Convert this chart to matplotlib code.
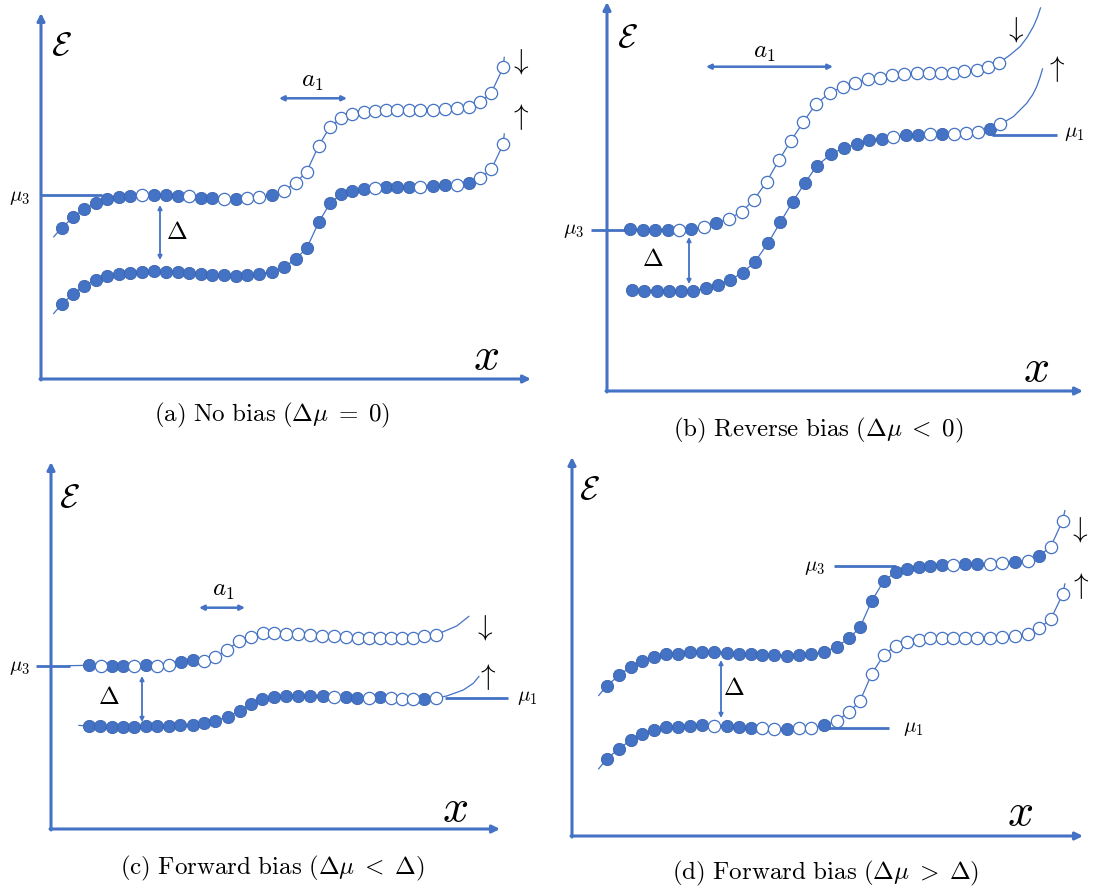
import matplotlib
matplotlib.use("Agg")
import matplotlib.pyplot as plt
import numpy as np

plt.rcParams['mathtext.fontset'] = 'cm'

BLUE = '#4472C4'
EDGE = '#3A63AE'

# ---------------- data (pixel positions) -------------
# panel (a) No bias
A_X = [61.7, 73.3, 84.3, 95.7, 107.3, 119, 130.3, 142, 154, 165.7, 177.7, 189.3, 200.7,
       212.3, 224, 235.7, 247.3, 259, 271.7, 284.3, 295.7, 306.7, 318.7, 330, 341, 352.3,
       363.7, 374.7, 385.7, 396.7, 408.7, 420.3, 432.7, 445, 456.7, 468.7, 480.3, 491.3, 503.3]
A_UP_Y = [227.7, 217.3, 209, 203.3, 199.3, 197, 196, 195.3, 194.7, 195, 195.7, 196.3, 197.7,
          198.3, 198.7, 199, 198.3, 197.3, 195, 190.7, 182.7, 171.7, 145.7, 126.7, 118.3, 114,
          112, 110.7, 110.3, 110.3, 110.3, 110.3, 109.7, 109, 108.3, 106.7, 102, 92.7, 67.3]
A_UP_FILL = "1111" + "111011101101001" + "0" * 20
A_UP_HEAD = [(53.3, 237.3)]
A_UP_TAIL = [(504.3, 56.7)]
A_LO_Y = [304, 294, 285.7, 280, 276, 273.7, 273, 272, 271.3, 271.7, 272.3, 273.3, 274.3,
          275, 275.3, 275.7, 275, 274, 272, 267.3, 259, 248.3, 222.3, 203.3, 194.3, 190.7,
          189, 187.7, 187, 187, 187, 187, 186, 185.3, 184.7, 183.3, 178, 169.3, 144]
A_LO_FILL = "1" * 19 + "11111111" + "0111011010" + "00"
A_LO_HEAD = [(53.3, 314)]
A_LO_TAIL = [(504.3, 133.3)]

# panel (b) Reverse bias
B_UP_X = [630, 642.7, 655, 667.7, 679.3, 691, 704.3, 716, 728.7, 741.7, 753.7, 766.7, 779,
          791, 803.3, 815.7, 830, 842.7, 855.3, 868, 880, 892, 904.3, 916.7, 928.7, 940.7,
          952.7, 964.3, 976.7, 988.3, 999.3]
B_UP_Y = [229.3, 229.7, 229.7, 229.7, 230, 229.3, 226.7, 223.3, 218.7, 211.7, 200, 181.7,
          160, 140.7, 122, 104.3, 92.7, 86.7, 82.7, 79, 77.7, 75.3, 74.3, 73.3, 72.7, 72.7,
          72.7, 71.3, 70, 66.7, 62.7]
B_UP_FILL = "11110101" + "0" * 23
B_UP_HEAD = []
B_UP_TAIL = [(1010, 55), (1020, 46.7), (1027, 37.5), (1033.3, 26.7), (1037.5, 17), (1040.7, 7.3)]
B_LO_X = [631.7, 644.3, 657, 669, 680.7, 693.3, 705.7, 717.7, 730, 742.7, 755, 768.3, 780.3,
          792.7, 804.7, 816.7, 831.3, 844, 856.7, 869, 881.7, 893.3, 905.7, 918, 930, 942.3,
          954, 966, 978, 989.7, 1000.3]
B_LO_Y = [290, 290.7, 290.7, 290.7, 291, 290.7, 288.3, 285, 280, 272.7, 261.7, 242.7, 222.3,
          201.7, 183.3, 166, 154, 147.7, 144, 140.3, 138.7, 136.7, 135.3, 134.7, 134, 133.7,
          133.7, 132.7, 131.7, 129.3, 124.3]
B_LO_FILL = "1" * 16 + "111110110100010"
B_LO_HEAD = []
B_LO_TAIL = [(1013.3, 116.7), (1026.7, 103.3), (1032.5, 95), (1036.7, 86.7), (1040, 77.5), (1042.7, 68.3)]

# panel (c) Forward bias, dmu < Delta
C_UP_X = [89, 100.7, 111.7, 123.3, 134.3, 146, 157.3, 168.7, 180.7, 192.7, 204, 215.3, 226.7,
          239.3, 250.7, 262.7, 274.3, 286.3, 298.3, 310.3, 322.3, 334.3, 346, 357.7, 369,
          380.3, 391, 402.3, 413, 424.3, 435.7]
C_UP_Y = [665.3, 666, 666, 666, 666.3, 665, 665.7, 664.7, 662, 660, 660.7, 657.3, 650, 641,
          636.7, 632.7, 633.3, 634, 634, 635, 635.7, 636.3, 637, 637.7, 638, 638.3, 638.3,
          638.3, 638, 636, 634.7]
C_UP_FILL = "101101001100000" + "0" * 16
C_UP_HEAD = [(68, 665.7)]
C_UP_TAIL = [(443.3, 631.7), (456.7, 626), (469.3, 616)]
C_LO_X = [89, 100, 111.7, 123, 134, 145.7, 157.3, 168.7, 180.3, 192.7, 204, 215.3, 227.7, 240,
          251, 262.3, 274, 286, 298.3, 310.3, 322.7, 334.3, 345.7, 357.3, 369, 380, 391,
          402.3, 413.3, 424.3, 435.7]
C_LO_Y = [726.3, 726.3, 726.7, 726.7, 726.7, 725.7, 725.7, 725.7, 725.3, 724.7, 723.3, 720.7,
          716.7, 711, 703.7, 699.3, 696.7, 695.7, 695.7, 695.7, 696, 696.7, 697, 698, 698,
          697.3, 698.3, 698.7, 698.7, 699.3, 698]
C_LO_FILL = "1" * 15 + "1111110110100010"
C_LO_HEAD = [(78.3, 725.3)]
C_LO_TAIL = [(446.7, 696), (463.3, 690), (473.3, 683.3), (479.3, 676)]

# panel (d) Forward bias, dmu > Delta
D_X = [606.7, 619.3, 630.7, 642.3, 654, 666.3, 677.7, 690, 702, 714.3, 726.7, 739, 750.7,
       762.3, 774.3, 787, 799, 811.3, 824.3, 836.7, 849, 860, 871.7, 884, 896, 907.3, 918.7,
       930, 941.7, 953.3, 965, 977.3, 990, 1002.3, 1015.3, 1027.7, 1039, 1050.7, 1062.7]
D_UP_Y = [685.7, 675.3, 666.7, 660.7, 656.7, 654.3, 653.7, 652.3, 651.7, 652, 652.7, 653.7,
          654.3, 654.7, 655.3, 656, 655.3, 654.3, 652, 646.7, 638.3, 627.3, 601, 580.7, 572,
          568.7, 567, 565.7, 564.7, 564.7, 564.3, 564.3, 563.7, 563, 562, 560.7, 556, 546.7, 520.7]
D_UP_FILL = "1" * 19 + "11111111110110010100"
D_UP_HEAD = [(598.3, 696)]
D_UP_TAIL = [(1065, 510)]
D_LO_Y = [758.7, 748.7, 740, 734, 730, 727.3, 726.7, 725.7, 725, 725.7, 726.3, 727, 727.7,
          728.3, 728.7, 729.3, 728.3, 727.7, 725.3, 720.7, 712.3, 701, 674, 654.7, 645.7,
          641.7, 640, 638.3, 638, 638, 638, 638, 637.7, 637, 636.3, 634, 628.3, 619.3, 594.3]
D_LO_FILL = "1111111110111001001" + "0" * 20
D_LO_HEAD = [(598.3, 769.3)]
D_LO_TAIL = [(1065, 583.3)]

CAPTIONS = [r"$\mathrm{(a)\ No\ bias\ (}\Delta\mu\;=\;0\mathrm{)}$",
            r"$\mathrm{(b)\ Reverse\ bias\ (}\Delta\mu\;<\;0\mathrm{)}$",
            r"$\mathrm{(c)\ Forward\ bias\ (}\Delta\mu\;<\;\Delta\mathrm{)}$",
            r"$\mathrm{(d)\ Forward\ bias\ (}\Delta\mu\;>\;\Delta\mathrm{)}$"]

# ---------------- drawing -------------------------------------------------------
fig = plt.figure(figsize=(10.94, 8.94), dpi=100)
ax = fig.add_axes([0, 0, 1, 1])
ax.set_xlim(0, 1094)
ax.set_ylim(894, 0)
ax.axis('off')

DOT_S = 78


def chain(xs, ys, fill, head, tail):
    px = [p[0] for p in head] + list(xs) + [p[0] for p in tail]
    py = [p[1] for p in head] + list(ys) + [p[1] for p in tail]
    ax.plot(px, py, color=BLUE, lw=0.9, zorder=2, solid_capstyle='butt')
    xs = np.asarray(xs, float)
    ys = np.asarray(ys, float)
    f = np.array([c == "1" for c in fill])
    ax.scatter(xs[f], ys[f], s=DOT_S, facecolor=BLUE, edgecolor=EDGE, linewidths=0.6, zorder=3)
    ax.scatter(xs[~f], ys[~f], s=DOT_S, facecolor='white', edgecolor=BLUE, linewidths=0.9, zorder=3)


chain(A_X, A_UP_Y, A_UP_FILL, A_UP_HEAD, A_UP_TAIL)
chain(A_X, A_LO_Y, A_LO_FILL, A_LO_HEAD, A_LO_TAIL)
chain(B_UP_X, B_UP_Y, B_UP_FILL, B_UP_HEAD, B_UP_TAIL)
chain(B_LO_X, B_LO_Y, B_LO_FILL, B_LO_HEAD, B_LO_TAIL)
chain(C_UP_X, C_UP_Y, C_UP_FILL, C_UP_HEAD, C_UP_TAIL)
chain(C_LO_X, C_LO_Y, C_LO_FILL, C_LO_HEAD, C_LO_TAIL)
chain(D_X, D_UP_Y, D_UP_FILL, D_UP_HEAD, D_UP_TAIL)
chain(D_X, D_LO_Y, D_LO_FILL, D_LO_HEAD, D_LO_TAIL)


def arrow(p0, p1, style='-|>', lw=2.0, ms=12):
    ax.annotate('', xy=p1, xytext=p0,
                arrowprops=dict(arrowstyle=style, color=BLUE, lw=lw, mutation_scale=ms,
                                shrinkA=0, shrinkB=0), zorder=1)


def hline(x0, x1, y, lw=2.0):
    ax.plot([x0, x1], [y, y], color=BLUE, lw=lw, solid_capstyle='butt', zorder=1)


def txt(x, y, s, size, **kw):
    ax.text(x, y, s, fontsize=size, ha='center', va='center', color='black', **kw)


# coordinate axes of each panel: (origin, top, right)
for (ox, oy, ty, rx) in [(41, 379, 13, 531), (607, 391, 2, 1083),
                         (51, 829, 462, 500), (572, 836, 457, 1083)]:
    arrow((ox, oy + 1), (ox, ty), lw=2.2, ms=11)
    arrow((ox - 1, oy), (rx, oy), lw=2.2, ms=11)

# chemical potential lines
hline(41, 102, 194.5)
hline(591, 628, 230)
hline(992, 1057, 135)
hline(36, 70, 666)
hline(445, 508, 697.7)
hline(834, 896, 566)
hline(825, 889, 727.7)

# Delta arrows
arrow((160, 205), (160, 260), style='<|-|>', lw=1.3, ms=6)
arrow((689, 237), (689, 284), style='<|-|>', lw=1.3, ms=6)
arrow((142, 676), (142, 722), style='<|-|>', lw=1.3, ms=6)
arrow((721, 660), (721, 718), style='<|-|>', lw=1.3, ms=6)

# a1 arrows
arrow((279, 98.3), (347, 98.3), style='<|-|>', lw=1.8, ms=7)
arrow((706, 66.7), (833, 66.7), style='<|-|>', lw=1.8, ms=7)
arrow((199, 607.7), (245, 607.7), style='<|-|>', lw=1.8, ms=7)

# labels
for (x, y) in [(61, 46), (627, 38), (69, 497), (589, 489)]:
    txt(x, y, r"$\mathcal{E}$", 24)
for (x, y) in [(486, 357), (1036, 368), (455, 809), (1020, 812)]:
    txt(x, y, r"$x$", 33)
for (x, y) in [(519, 62), (1014, 29), (483, 627), (1078, 529)]:
    txt(x, y, r"$\downarrow$", 21)
for (x, y) in [(519, 117), (1055, 69), (486, 677), (1079, 586)]:
    txt(x, y, r"$\uparrow$", 21)
for (x, y) in [(20, 197), (574, 230), (20, 667), (815, 567)]:
    txt(x, y, r"$\mu_3$", 15)
for (x, y) in [(1074, 133), (527, 697), (913, 728)]:
    txt(x, y, r"$\mu_1$", 15)
for (x, y) in [(312.7, 81), (764, 52), (223, 590)]:
    txt(x, y, r"$a_1$", 18)
for (x, y) in [(177, 232), (653, 259), (109, 697), (734, 688)]:
    txt(x, y, r"$\Delta$", 18)
for (x, y), s in zip([(272, 415), (818, 430), (272, 868), (826, 873)], CAPTIONS):
    txt(x, y, s, 18)

fig.savefig("out.png", dpi=100)
